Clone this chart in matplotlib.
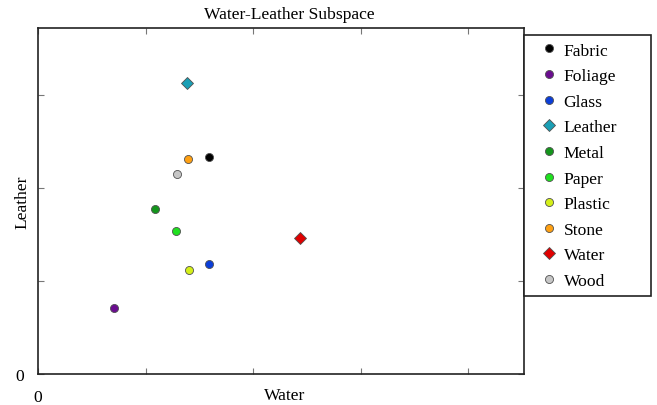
import matplotlib
matplotlib.use('Agg')
import matplotlib.pyplot as plt

materials = ['Fabric', 'Foliage', 'Glass', 'Leather', 'Metal',
             'Paper', 'Plastic', 'Stone', 'Water', 'Wood']
water = [1.594, 0.707, 1.588, 1.383, 1.091, 1.284, 1.407, 1.393, 2.440, 1.293]
leather = [2.337, 0.713, 1.180, 3.126, 1.774, 1.534, 1.121, 2.312, 1.459, 2.147]
colors = ['#000000', '#6a0d8f', '#0b3ed8', '#1a9fb5', '#14951c',
          '#1fe01f', '#d4ef18', '#ffa012', '#e00000', '#c6c6c6']
markers = ['o', 'o', 'o', 'D', 'o', 'o', 'o', 'o', 'D', 'o']

plt.rcParams['font.family'] = ['Liberation Serif', 'DejaVu Serif']
fs = 12.6

fig = plt.figure(figsize=(6.57, 4.06), dpi=100)
ax = fig.add_axes([38 / 657, 31 / 406, 486 / 657, 346 / 406])

for name, x, y, c, m in zip(materials, water, leather, colors, markers):
    size = 6.2 if m == 'D' else 5.8
    ax.plot(x, y, m, color=c, markersize=size, markeredgecolor='#505050',
            markeredgewidth=0.6, label=name, linestyle='none')

ax.set_xlim(0, 4.52)
ax.set_ylim(0, 3.72)
ax.set_xticks([0, 1, 2, 3, 4])
ax.set_xticklabels(['0', '', '', '', ''])
ax.set_yticks([0, 1, 2, 3])
ax.set_yticklabels(['0', '', '', ''])
ax.tick_params(direction='in', length=4, width=0.8, color='#777777',
               top=True, right=True, labelsize=fs)
ax.tick_params(axis='x', pad=11)
ax.tick_params(axis='y', pad=10)
for s in ax.spines.values():
    s.set_linewidth(1.2)
    s.set_color('#222222')

ax.set_title('Water-Leather Subspace', fontsize=fs, pad=7, x=0.518)
ax.set_xlabel('Water', fontsize=fs, labelpad=-13, x=0.508)
ax.set_ylabel('Leather', fontsize=fs, labelpad=-11)

leg = fig.legend(loc='upper left', bbox_to_anchor=(524 / 657, 370 / 406, 127 / 657, 0),
                 mode='expand', borderaxespad=0, fancybox=False, framealpha=1,
                 edgecolor='#222222', fontsize=fs, labelspacing=0.535,
                 handletextpad=-0.2, handlelength=2.05, borderpad=0.42)
leg.get_frame().set_linewidth(1.2)

plt.savefig('out.png', dpi=100)
